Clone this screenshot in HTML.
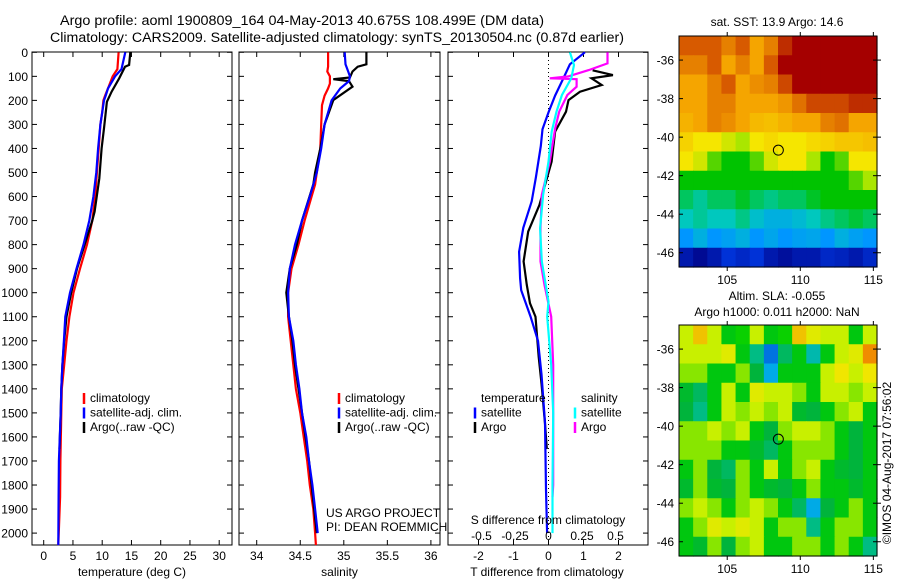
<!DOCTYPE html>
<html><head><meta charset="utf-8"><style>
html,body{margin:0;padding:0;background:#fff;}
svg{display:block;font-family:"Liberation Sans",sans-serif;}
text{fill:#000;}
</style></head><body>
<svg id="fig" width="900" height="580" viewBox="0 0 900 580" xmlns="http://www.w3.org/2000/svg">
<text x="302" y="25" font-size="13.5" text-anchor="middle" textLength="484" lengthAdjust="spacingAndGlyphs">Argo profile: aoml 1900809_164 04-May-2013 40.675S 108.499E (DM data)</text>
<text x="337" y="42" font-size="13.5" text-anchor="middle" textLength="574" lengthAdjust="spacingAndGlyphs">Climatology: CARS2009. Satellite-adjusted climatology: synTS_20130504.nc (0.87d earlier)</text>
<text x="777" y="26" font-size="12" text-anchor="middle">sat. SST: 13.9 Argo: 14.6</text>
<text x="777" y="300" font-size="12" text-anchor="middle">Altim. SLA: -0.055</text>
<text x="777" y="316" font-size="12" text-anchor="middle">Argo h1000: 0.011 h2000: NaN</text>
<text transform="translate(891,463) rotate(-90)" font-size="12" text-anchor="middle">©IMOS 04-Aug-2017 07:56:02</text>
<g id="g"></g>
</svg>
<script>
// ---- temperature panel data ----
const tDepth = [0,70,100,150,180,200,250,300,400,500,600,700,800,900,1000,1100,1200,1300,1400,1500,1700,1850,2050];
const climT = [12.8,12.6,11.8,11.0,10.5,10.2,10.0,9.7,9.4,9.1,8.8,8.3,7.4,6.2,5.1,4.4,3.9,3.5,3.1,3.0,2.85,2.8,2.5];
const satT = [13.95,13.3,12.2,11.0,10.6,10.3,10.0,9.7,9.3,9.0,8.5,7.8,6.8,5.6,4.5,3.7,3.45,3.2,3.0,2.9,2.6,2.55,2.5];
const aDepth = [0,53,60,108,164,206,316,400,525,663,700,800,900,1000,1100,1200,1300,1400,1500,1650];
const argoT = [14.8,14.6,13.9,12.9,11.6,10.8,10.3,9.9,9.5,8.7,8.3,7.0,5.7,4.7,3.9,3.5,3.2,3.0,2.9,2.7];
const tTicks = [0,5,10,15,20,25,30];
// ---- salinity panel data ----
const sDepth = [0,60,80,100,130,150,180,220,300,400,500,550,600,700,800,900,1000,1100,1200,1300,1400,1500,1600,1700,1800,1900,2000,2050];
const climS = [34.82,34.82,34.81,34.84,34.84,34.82,34.78,34.75,34.74,34.73,34.69,34.67,34.63,34.55,34.48,34.40,34.36,34.36,34.39,34.42,34.45,34.50,34.54,34.58,34.61,34.65,34.67,34.68];
const sbDepth = [0,50,80,100,120,150,200,250,300,400,500,600,700,800,900,1000,1100,1200,1300,1400,1500,1600,1700,1800,1900,2000];
const satS = [35.01,35.02,35.05,35.07,35.06,34.96,34.86,34.82,34.78,34.74,34.69,34.61,34.52,34.44,34.38,34.36,34.37,34.42,34.45,34.49,34.52,34.57,34.60,34.64,34.67,34.70];
const saDepth = [0,50,60,80,105,112,120,143,199,300,400,500,550,700,800,900,1000,1100,1200,1300,1400,1500,1600,1700,1800,1900,2000];
const argoS = [35.26,35.26,35.16,35.10,35.07,34.88,35.06,35.10,34.88,34.78,34.73,34.67,34.65,34.52,34.46,34.38,34.34,34.37,34.41,34.44,34.48,34.52,34.56,34.60,34.63,34.66,34.69];
const sTicks = [34,34.5,35,35.5,36];
// ---- difference panel data ----
const dDepthB = [0,50,110,180,250,320,390,520,620,730,830,940,990,1100,1200,1340,1540,1820,2000];
const satDT = [1.04,0.61,0.42,0.19,0,-0.17,-0.22,-0.36,-0.48,-0.72,-0.84,-0.81,-0.78,-0.51,-0.3,-0.2,-0.1,-0.07,-0.04];
const dDepthA = [75,95,108,136,164,199,247,330,455,635,746,870,968,1044,1100,1267,1378,1544,1650];
const argoDT = [1.26,1.84,1.23,1.52,0.9,0.57,0.5,0.19,0.09,-0.26,-0.58,-0.71,-0.62,-0.53,-0.37,-0.28,-0.2,-0.1,-0.05];
const cDepth = [0,53,108,178,247,330,455,593,732,870,1037,1100,1300,1500,1800,2000];
const satDS = [0.16,0.19,0.17,0.10,0.06,0.024,0,-0.04,-0.063,-0.05,0,-0.01,0.02,0.035,0.03,0.03];
const mDepth = [0,46,74,100,108,112,143,178,247,316,455,593,732,870,968,1100,1300,1500,1800,1850];
const argoDS = [0.44,0.44,0.30,0.15,0.01,0.21,0.21,0.14,0.08,0.05,0.01,-0.05,-0.06,-0.06,-0.03,0.02,0.035,0.035,0.035,0.03];
const dTTicks = [-2,-1,0,1,2];
const dSTicks = [-0.5,-0.25,0,0.25,0.5];
const dSTickLabels = ["-0.5","-0.25","0","0.25","0.5"];
const depthTicks = [0,100,200,300,400,500,600,700,800,900,1000,1100,1200,1300,1400,1500,1600,1700,1800,1900,2000];
// ---- SST map (deg C), rows north->south, cols west->east ----
const sstGrid = [
[17,17,17,16.5,17,16,16.5,17.5,18,18,18,18,18,18],
[16.5,16.5,17,16,16.5,16,17,18,18,18,18,18,18,18],
[16,16,16.5,17,16,16.3,16.5,17.2,18,18,18,18,18,18],
[16,16,16.5,16.5,16,16,16,16.2,16.7,17.2,17.2,17.2,17.5,17.5],
[15.8,16,16.5,16.3,16,15.7,15.6,15.8,16,16,16.5,16.7,16,16],
[15.3,15,15,14.5,14,15,15.2,15,15,15.2,15.3,15.5,15.5,15.6],
[15,14.5,13.5,13,13,13.5,14.5,15,15,14,13,13.5,15,15],
[13,13,13,13,13,13,13,13,13,13,13,13,13.5,14],
[12.5,12.2,12.5,12.5,12.8,12.5,12.3,12.5,12.5,12.8,13,13,13,13],
[12,12.2,12,12,12.3,11.8,11.5,11.5,11.7,12,12.3,12.5,12.7,12.5],
[11,11.5,11,11.2,11.5,11,11.3,11,11.2,11.3,11,11.5,11.2,11],
[9.5,9.2,9.5,10,9.8,10,9.5,9.3,9.5,9.5,9.8,9.7,9.5,9.8]];
// ---- SLA map (m) ----
const slaGrid = [
[0.05,0.12,0.05,-0.05,-0.03,0.05,-0.05,-0.03,0.12,0.08,0.05,0.05,-0.05,0.05],
[0.05,0.05,0.05,0.08,-0.05,-0.12,-0.25,-0.1,-0.05,-0.15,-0.05,0.05,0.08,0.15],
[0.03,0.03,-0.05,-0.05,0.03,-0.08,-0.2,-0.05,-0.05,-0.05,0.05,0.1,0.05,0.1],
[-0.07,-0.1,-0.05,0.05,-0.05,0.08,0.05,0.05,0.03,-0.05,0.05,0.05,0.03,0.05],
[-0.08,-0.12,-0.05,0.05,0.03,0.05,0.03,0.05,-0.07,-0.08,-0.05,0.03,0.05,-0.05],
[0.03,0.03,0.05,0.03,0.05,-0.05,-0.08,0.03,0.05,0.05,0.03,-0.05,-0.08,-0.05],
[0.03,0.03,0.03,-0.05,-0.05,-0.07,-0.1,-0.05,0.03,0.03,0.03,-0.05,-0.08,-0.05],
[-0.05,0.03,-0.08,-0.1,0.03,-0.05,0.05,-0.05,0.03,0.05,-0.05,-0.07,-0.08,-0.05],
[-0.07,0.03,-0.07,-0.08,0.03,-0.05,-0.07,-0.08,-0.05,0.03,-0.05,-0.05,-0.07,-0.05],
[0.03,0.05,0.03,-0.05,0.03,0.05,0.03,-0.05,-0.1,-0.2,-0.08,-0.05,0.03,-0.05],
[-0.05,0.03,0.08,0.05,0.08,0.05,-0.05,0.03,0.03,-0.12,-0.05,0.03,0.03,-0.05],
[-0.05,-0.07,0.03,-0.08,0.03,0.05,-0.05,-0.05,0.03,0.03,-0.05,0.03,-0.05,-0.12]];
const lonTicks = [105,110,115];
const latTicks = [-36,-38,-40,-42,-44,-46];
const argoLon = [108.499];
const argoLat = [-40.675];

const NS="http://www.w3.org/2000/svg";
const G=document.getElementById('g');
function mk(tag,attrs,parent){const e=document.createElementNS(NS,tag);for(const k in attrs)e.setAttribute(k,attrs[k]);(parent||G).appendChild(e);return e;}
const yD=d=>52.3+0.2404*d;
const PY0=52, PY1=545;
const xT=t=>43.7+5.85*t;
const xS=s=>256.7+87.1*(s-34);
const xDT=t=>548.5+35*t;
const xDS=s=>548.5+134*s;

function panel(name,x0,x1,xf,ticks,labels,xlabel,showY){
  const g=mk('g',{});
  
  
  const r=mk('rect',{x:x0,y:PY0,width:x1-x0,height:PY1-PY0,fill:'none',stroke:'#000','stroke-width':1},g);
  
  
  depthTicks.forEach(d=>{const y=yD(d);
    mk('line',{x1:x0,x2:x0+5,y1:y,y2:y,stroke:'#000'},g);
    mk('line',{x1:x1-5,x2:x1,y1:y,y2:y,stroke:'#000'},g);
    if(showY){const t=mk('text',{x:28,y:y+4.5,'font-size':12,'text-anchor':'end'},g);t.textContent=d;
      
      }
  });
  ticks.forEach((v,i)=>{const x=xf(v);
    mk('line',{x1:x,x2:x,y1:PY0,y2:PY0+5,stroke:'#000'},g);
    mk('line',{x1:x,x2:x,y1:PY1-5,y2:PY1,stroke:'#000'},g);
    const t=mk('text',{x:x,y:560,'font-size':12,'text-anchor':'middle'},g);t.textContent=labels?labels[i]:v;
    
    
  });
  const xl=mk('text',{x:(x0+x1)/2+(name==='diff-panel'?-1:0),y:576,'font-size':12,'text-anchor':'middle'},g);xl.textContent=xlabel;
  
  
  return g;
}
function series(name,xs,ds,xf,color,g){
  const pts=xs.map((v,i)=>xf(v).toFixed(1)+','+yD(ds[i]).toFixed(1)).join(' ');
  const p=mk('polyline',{points:pts,fill:'none',stroke:color,'stroke-width':2.2,'stroke-linejoin':'miter'},g);
  
  
}
function legend(x,y,items,g){
  items.forEach((it,i)=>{const yy=y+i*14.5;
    if(it[1]){mk('line',{x1:x,x2:x,y1:yy-9,y2:yy+2,stroke:it[1],'stroke-width':2.5},g);}
    const t=mk('text',{x:x+6,y:yy,'font-size':12},g);t.textContent=it[0];
    
    
  });
}
const p1=panel('temperature-panel',32,232,xT,tTicks,null,'temperature (deg C)',true);
series('climatology-temperature-line',climT,tDepth,xT,'#ff0000',p1);
series('argo-temperature-line',argoT,aDepth,xT,'#000',p1);
series('satellite-temperature-line',satT,tDepth,xT,'#0000ff',p1);
legend(84,402,[['climatology','#ff0000'],['satellite-adj. clim.','#0000ff'],['Argo(..raw -QC)','#000']],p1);
const p2=panel('salinity-panel',239,440,xS,sTicks,null,'salinity',false);
series('climatology-salinity-line',climS,sDepth,xS,'#ff0000',p2);
series('argo-salinity-line',argoS,saDepth,xS,'#000',p2);
series('satellite-salinity-line',satS,sbDepth,xS,'#0000ff',p2);
legend(339,402,[['climatology','#ff0000'],['satellite-adj. clim.','#0000ff'],['Argo(..raw -QC)','#000']],p2);
{const t=mk('text',{x:326,y:517,'font-size':12},p2);t.textContent='US ARGO PROJECT';


const t2=mk('text',{x:326,y:531,'font-size':12},p2);t2.textContent='PI: DEAN ROEMMICH';

}
const p3=panel('diff-panel',448,648,xDT,dTTicks,null,'T difference from climatology',false);
mk('line',{x1:xDT(0),x2:xDT(0),y1:PY0,y2:PY1,stroke:'#000','stroke-dasharray':'1,3'},p3);
series('argo-temperature-diff-line',argoDT,dDepthA,xDT,'#000',p3);
series('satellite-temperature-diff-line',satDT,dDepthB,xDT,'#0000ff',p3);
series('argo-salinity-diff-line',argoDS,mDepth,xDS,'#ff00ff',p3);
series('satellite-salinity-diff-line',satDS,cDepth,xDS,'#00ffff',p3);
dSTicks.forEach((v,i)=>{const t=mk('text',{x:xDS(v),y:540,'font-size':12,'text-anchor':'middle'},p3);t.textContent=dSTickLabels[i];
  
  });
{const t=mk('text',{x:548,y:524,'font-size':12,'text-anchor':'middle'},p3);t.textContent='S difference from climatology';

}
legend(475,402,[['temperature',null],['satellite','#0000ff'],['Argo','#000']],p3);
legend(575,402,[['salinity',null],['satellite','#00ffff'],['Argo','#ff00ff']],p3);

function cmap(stops,v){
  if(v<=stops[0][0])return 'rgb('+stops[0][1].join(',')+')';
  for(let i=1;i<stops.length;i++){if(v<=stops[i][0]){const a=stops[i-1],b=stops[i],f=(v-a[0])/(b[0]-a[0]);
    return 'rgb('+a[1].map((c,k)=>Math.round(c+(b[1][k]-c)*f)).join(',')+')';}}
  return 'rgb('+stops[stops.length-1][1].join(',')+')';
}
const sstStops=[[9,[0,0,130]],[10,[0,50,215]],[11,[0,150,255]],[12,[0,200,190]],[13,[0,195,0]],[14,[170,230,0]],[15,[245,230,0]],[16,[245,165,0]],[17,[215,90,0]],[18,[165,0,0]]];
const slaStops=[[-0.3,[0,60,220]],[-0.2,[0,170,230]],[-0.13,[0,190,150]],[-0.08,[0,180,60]],[-0.04,[0,205,0]],[0.0,[40,215,0]],[0.05,[200,240,0]],[0.1,[240,230,0]],[0.15,[240,140,0]]];
function map(name,grid,stops,top){
  const g=mk('g',{});
  
  
  const L0=101.7,L1=115.25,B0=-34.75,B1=-46.74;
  const mx=lon=>679+198*(lon-L0)/(L1-L0);
  const my=lat=>top+231*(B0-lat)/(B0-B1);
  const nr=grid.length,nc=grid[0].length,dl=(L1-L0)/nc,db=(B0-B1)/nr;
  grid.forEach((row,r)=>row.forEach((v,c)=>{
    const x=mx(L0+c*dl),y=my(B0-r*db);
    const cell=mk('rect',{x:x.toFixed(2),y:y.toFixed(2),width:(mx(L0+(c+1)*dl)-x+0.6).toFixed(2),height:(my(B0-(r+1)*db)-y+0.6).toFixed(2),fill:cmap(stops,v)},g);
    
    
  }));
  const fr=mk('rect',{x:679,y:top,width:198,height:231,fill:'none',stroke:'#000'},g);
  
  
  latTicks.forEach(la=>{const y=my(la);
    mk('line',{x1:679,x2:683,y1:y,y2:y,stroke:'#000'},g);
    mk('line',{x1:873,x2:881,y1:y,y2:y,stroke:'#000'},g);
    const t=mk('text',{x:674,y:y+4.5,'font-size':12,'text-anchor':'end'},g);t.textContent=la;
    
    });
  lonTicks.forEach(lo=>{const x=mx(lo);
    mk('line',{x1:x,x2:x,y1:top-4,y2:top,stroke:'#000'},g);
    mk('line',{x1:x,x2:x,y1:top+231,y2:top+235,stroke:'#000'},g);
    const t=mk('text',{x:x,y:top+248,'font-size':12,'text-anchor':'middle'},g);t.textContent=lo;
    
    });
  argoLon.forEach((lo,i)=>{const c=mk('circle',{cx:mx(lo),cy:my(argoLat[i]),r:5,fill:'none',stroke:'#000','stroke-width':1},g);
    
    });
}
map('sst-map',sstGrid,sstStops,36);
map('sla-map',slaGrid,slaStops,325);
</script>
</body></html>
